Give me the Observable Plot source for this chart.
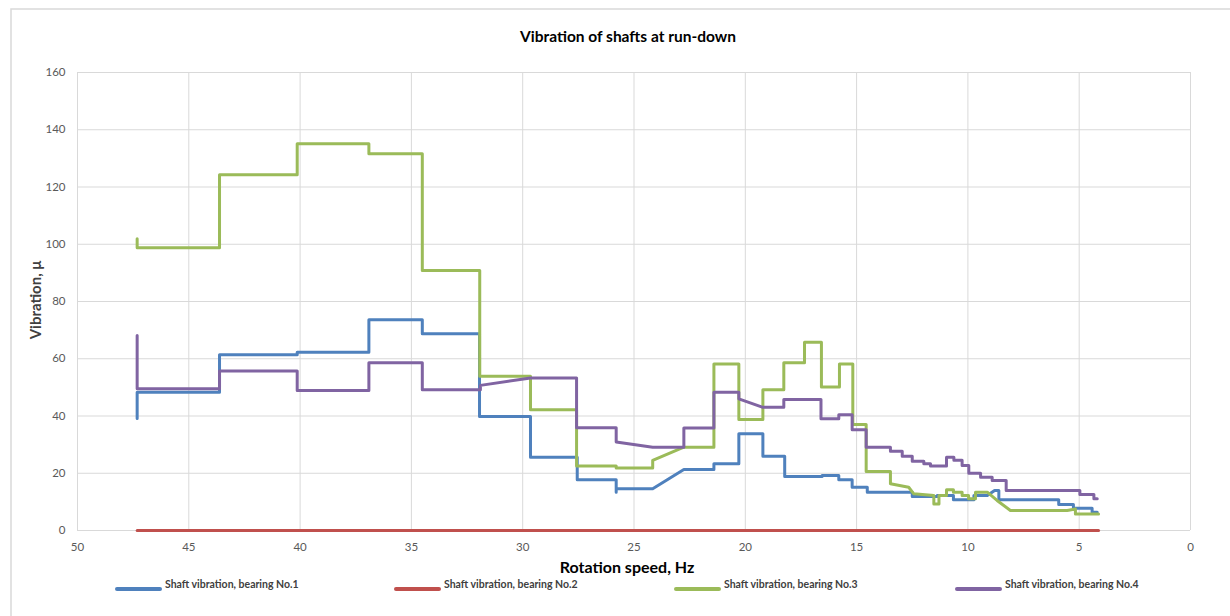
<!DOCTYPE html>
<html>
<head>
<meta charset="utf-8">
<script src="https://cdn.jsdelivr.net/npm/d3@7"></script>
<script src="https://cdn.jsdelivr.net/npm/@observablehq/plot@0.6"></script>
<style>
  html, body { margin: 0; padding: 0; background: #fff; }
</style>
</head>
<body>
<div id="chart"></div>
<script>
const title = "Vibration of shafts at run-down";
const xLabel = "Rotation speed, Hz";
const yLabel = "Vibration, μ";
const xTicks = [50, 45, 40, 35, 30, 25, 20, 15, 10, 5, 0];
const yTicks = [0, 20, 40, 60, 80, 100, 120, 140, 160];
const seriesNames = [
  "Shaft vibration, bearing No.1",
  "Shaft vibration, bearing No.2",
  "Shaft vibration, bearing No.3",
  "Shaft vibration, bearing No.4"
];
const seriesColors = ["#4F81BD", "#C0504D", "#9BBB59", "#8064A2"];

// [Hz, vibration]
const bearing1 = [[47.32,39.1],[47.32,48.3],[43.62,48.3],[43.62,61.4],[40.13,61.4],[40.13,62.3],[36.91,62.3],[36.91,73.6],[34.51,73.6],[34.51,68.7],[31.94,68.7],[31.94,39.8],[29.65,39.8],[29.65,25.6],[27.55,25.6],[27.55,17.7],[25.80,17.7],[25.80,13.4],[25.80,14.6],[24.16,14.6],[22.76,21.3],[21.41,21.3],[21.41,23.3],[20.29,23.3],[20.29,33.8],[19.21,33.8],[19.21,25.9],[18.23,25.9],[18.23,18.9],[16.55,18.9],[16.55,19.2],[15.80,19.2],[15.80,17.7],[15.20,17.7],[15.20,15.1],[14.52,15.1],[14.52,13.4],[12.50,13.4],[12.50,11.9],[11.38,11.9],[11.38,12.2],[10.65,12.2],[10.65,10.7],[9.73,10.7],[9.73,12.2],[9.13,12.2],[8.80,14.0],[8.61,14.0],[8.61,10.7],[5.92,10.7],[5.92,9.1],[5.26,9.1],[5.26,7.8],[4.42,7.8],[4.42,6.4],[4.19,6.4]];
const bearing2 = [[47.32,0],[4.13,0]];
const bearing3 = [[47.32,101.9],[47.32,98.8],[43.62,98.8],[43.62,124.3],[40.13,124.3],[40.13,135.1],[36.91,135.1],[36.91,131.6],[34.51,131.6],[34.51,90.8],[31.93,90.8],[31.93,53.9],[29.65,53.9],[29.65,42.2],[27.58,42.2],[27.58,22.5],[25.80,22.5],[25.80,21.8],[24.16,21.8],[24.16,24.5],[22.76,29.1],[21.41,29.1],[21.41,58.2],[20.29,58.2],[20.29,38.8],[19.21,38.8],[19.21,49.2],[18.27,49.2],[18.27,58.6],[17.34,58.6],[17.34,65.8],[16.58,65.8],[16.58,50.1],[15.77,50.1],[15.77,58.2],[15.17,58.2],[15.17,37.0],[14.57,37.0],[14.57,20.6],[13.48,20.6],[13.48,16.3],[12.66,15.1],[12.43,12.8],[11.53,12.2],[11.53,9.3],[11.30,9.3],[11.30,12.2],[10.96,12.2],[10.96,14.2],[10.65,14.2],[10.65,13.4],[10.26,13.4],[10.26,12.2],[9.97,12.2],[9.97,11.1],[9.66,11.1],[9.66,13.4],[9.13,13.4],[8.69,10.5],[8.09,7.0],[5.54,7.0],[5.17,7.5],[5.17,5.8],[4.13,5.8]];
const bearing4 = [[47.32,68.1],[47.32,49.5],[43.62,49.5],[43.62,55.7],[40.13,55.7],[40.13,48.9],[36.91,48.9],[36.91,58.6],[34.51,58.6],[34.51,49.2],[31.90,49.2],[31.90,50.7],[29.65,53.3],[27.58,53.3],[27.58,35.9],[25.80,35.9],[25.80,30.9],[24.16,29.1],[22.76,29.1],[22.76,35.8],[21.41,35.8],[21.41,48.3],[20.29,48.3],[20.29,46.0],[19.24,43.1],[18.27,43.1],[18.27,45.8],[16.60,45.8],[16.60,39.0],[15.80,39.0],[15.80,40.4],[15.20,40.4],[15.20,35.2],[14.57,35.2],[14.57,29.1],[13.48,29.1],[13.48,27.7],[12.95,27.7],[12.95,25.9],[12.50,25.9],[12.50,24.2],[11.98,24.2],[11.98,23.3],[11.68,23.3],[11.68,22.5],[10.96,22.5],[10.96,25.6],[10.63,25.6],[10.63,24.5],[10.26,24.5],[10.26,22.7],[9.96,22.7],[9.96,20.0],[9.43,20.0],[9.43,18.6],[8.91,18.6],[8.91,17.5],[8.28,17.5],[8.28,14.0],[4.97,14.0],[4.97,12.6],[4.34,12.6],[4.34,11.1],[4.19,11.1]];

const allSeries = [bearing1, bearing2, bearing3, bearing4];
const rows = allSeries.flatMap((s, i) => s.map(([hz, v]) => ({hz, v, series: seriesNames[i]})));

const font = "Lato, 'Open Sans', sans-serif";

const chart = Plot.plot({
  width: 1230,
  height: 616,
  marginLeft: 77,
  marginRight: 40,
  marginTop: 72,
  marginBottom: 86,
  style: {fontFamily: font, background: "#fff", overflow: "visible"},
  x: {domain: [50, 0], ticks: xTicks},
  y: {domain: [0, 160], ticks: yTicks},
  color: {domain: seriesNames, range: seriesColors},
  marks: [
    Plot.gridX(xTicks, {stroke: "#d9d9d9", strokeOpacity: 1, strokeWidth: 1}),
    Plot.gridY(yTicks, {stroke: "#d9d9d9", strokeOpacity: 1, strokeWidth: 1}),
    Plot.axisX(xTicks, {tickSize: 0, tickPadding: 12, fontSize: 11.5, fill: "#595959", label: null, tickFormat: d => String(d)}),
    Plot.axisY(yTicks, {tickSize: 0, tickPadding: 12, fontSize: 11.5, fill: "#595959", label: null, tickFormat: d => String(d)}),
    Plot.line(rows, {x: "hz", y: "v", z: "series", stroke: "series", strokeWidth: 3, strokeLinejoin: "round", strokeLinecap: "round"})
  ]
});

const svg = d3.select(chart);
svg.insert("rect", ":first-child")
  .attr("x", 11).attr("y", 9).attr("width", 1240).attr("height", 640)
  .attr("fill", "none").attr("stroke", "#d9d9d9").attr("stroke-width", 1.5);

svg.append("text").text(title)
  .attr("x", 628).attr("y", 38).attr("text-anchor", "middle").attr("dominant-baseline", "middle")
  .attr("font-family", font).attr("font-weight", "bold").attr("font-size", 15.5).attr("fill", "#000");

svg.append("text").text(xLabel)
  .attr("x", 627).attr("y", 569).attr("text-anchor", "middle").attr("dominant-baseline", "middle")
  .attr("font-family", font).attr("font-weight", "bold").attr("font-size", 16).attr("fill", "#000");

svg.append("text").text(yLabel)
  .attr("transform", "translate(37,300) rotate(-90)")
  .attr("text-anchor", "middle").attr("dominant-baseline", "middle")
  .attr("font-family", font).attr("font-weight", "bold").attr("font-size", 15).attr("fill", "#404040");

const legendX = [117, 396, 676, 957];
const legend = svg.append("g");
seriesNames.forEach((name, i) => {
  legend.append("line")
    .attr("x1", legendX[i]).attr("x2", legendX[i] + 43)
    .attr("y1", 589).attr("y2", 589)
    .attr("stroke", seriesColors[i]).attr("stroke-width", 4).attr("stroke-linecap", "round");
  legend.append("text").text(name)
    .attr("x", legendX[i] + 48).attr("y", 585).attr("dominant-baseline", "middle")
    .attr("text-anchor", "start")
    .attr("font-family", font).attr("font-weight", "bold").attr("font-size", 10.5).attr("fill", "#404040");
});

document.getElementById("chart").appendChild(chart);
</script>
</body>
</html>
